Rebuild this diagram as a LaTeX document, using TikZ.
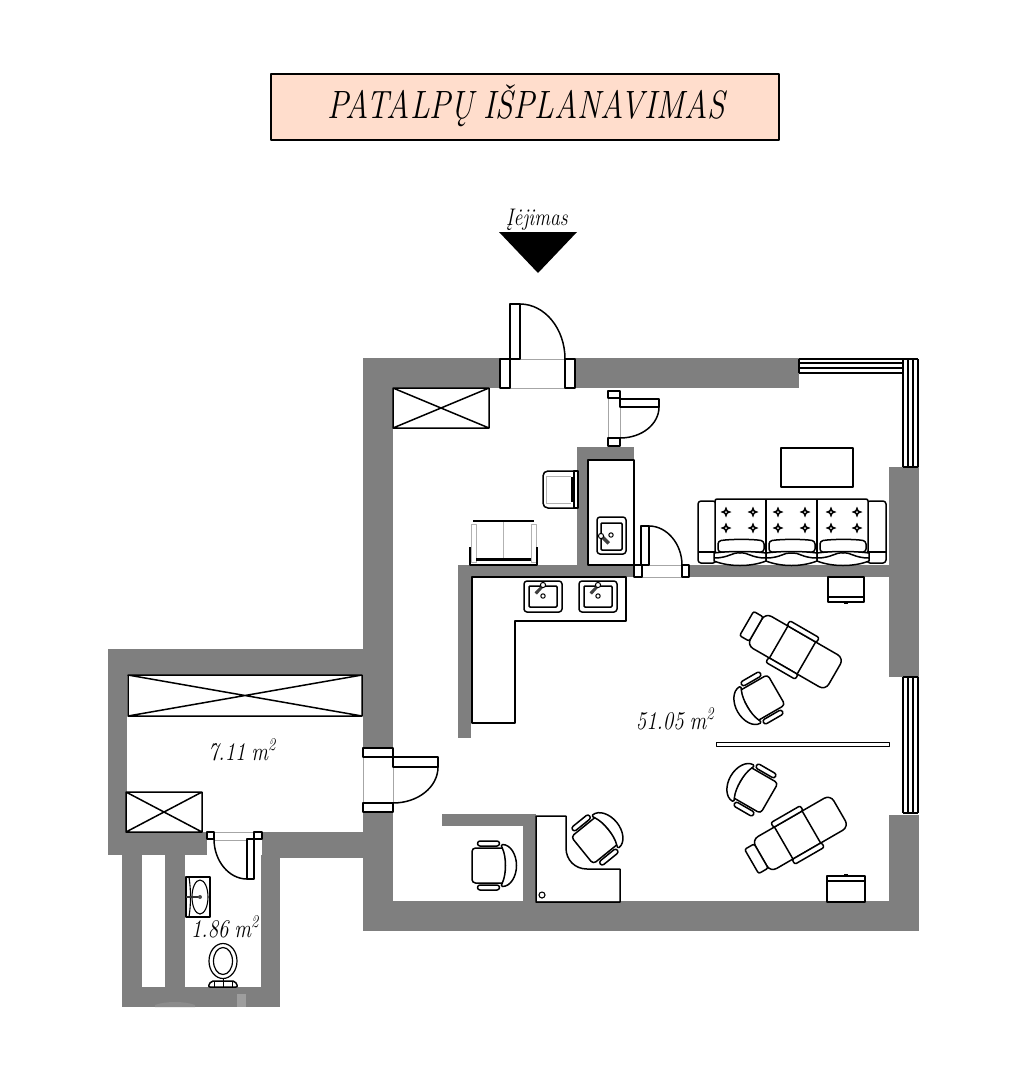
\documentclass[tikz,border=0pt]{standalone}
\usepackage{fontspec}
\newcommand{\condensed}[1]{\scalebox{0.82}[1]{#1}}
\begin{document}
\begin{tikzpicture}[x=1pt,y=-1pt,line join=round,
  wall/.style={fill=wallgrey,draw=none},
  ln/.style={draw=black,line width=1.5pt},
  lnw/.style={draw=black,line width=1.5pt,fill=white},
  thinl/.style={draw=black!35,line width=0.9pt},
  softl/.style={draw=black!30,line width=1pt},
  lbl/.style={font=\itshape\fontsize{25.5}{25.5}\selectfont,inner sep=0pt,anchor=base,text=black},
  officechair/.pic={
    \draw[lnw,rounded corners=3.5pt] (-16.5,-17.5) rectangle (17,17.5);
    \draw[lnw] (14,-21) .. controls (22,-21) and (28,-11) .. (28,0) .. controls (28,11) and (22,21) .. (14,21)
       .. controls (12,21) and (13,19) .. (14,17) .. controls (18,8) and (18,-8) .. (14,-17) .. controls (13,-19) and (12,-21) .. (14,-21) -- cycle;
    \draw[lnw,rounded corners=2.5pt] (-11,-24.5) rectangle (11,-19.5);
    \draw[lnw,rounded corners=2.5pt] (-11,19.5) rectangle (11,24.5);
  },
  treatchair/.pic={
    \draw[lnw,rounded corners=7pt] (-46,-18.5) rectangle (44.5,18.5);
    \draw[lnw,rounded corners=2pt] (-57,-14) rectangle (-46,14);
    \draw[ln] (-20,-18.5) -- (-20,18.5) (12,-18.5) -- (12,18.5);
    \draw[lnw,rounded corners=2pt] (-21,-24) rectangle (13,-18.5);
    \draw[lnw,rounded corners=2pt] (-21,18.5) rectangle (13,24);
  },
  tuft/.pic={
    \fill[black] (0,-5.5) -- (1.6,-1.6) -- (5.5,0) -- (1.6,1.6) -- (0,5.5) -- (-1.6,1.6) -- (-5.5,0) -- (-1.6,-1.6) -- cycle;
    \fill[white] (0,0) circle (1);
  },
  washbasin/.pic={
    \draw[lnw,rounded corners=3pt] (0,0) rectangle (38,31);
    \draw[ln,rounded corners=1pt] (5,5) rectangle (33,26);
    \fill[black!75] (18.6,3.2) -- (20.6,5) -- (13,13.5) -- (10.5,11.5) -- cycle;
    \draw[lnw,line width=1pt] (19,4) circle (2.6);
    \draw[lnw,line width=1pt] (19,15) circle (2.2);
  }]
\definecolor{wallgrey}{HTML}{7F7F7F}
\definecolor{titlefill}{HTML}{FFDDCC}
\useasboundingbox (0,0) rectangle (1028,1080);
\fill[white] (0,0) rectangle (1028,1080);

% ---------- title
\node[draw=black,line width=1.5pt,fill=titlefill,minimum width=508pt,minimum height=66pt,inner sep=0pt] (titlebox) at (525,107) {};
\node[inner sep=0pt,anchor=base,font=\itshape\fontsize{39.5}{39.5}\selectfont,text=black] (title) at (526,118) {\scalebox{0.81}[1]{PATALPŲ\hspace{0.3em}IŠPLANAVIMAS}};
\node[lbl,font=\itshape\fontsize{24}{24}\selectfont] (entry) at (537,225) {\condensed{Įėjimas}};
\fill[black] (499,232) -- (577,232) -- (538,273) -- cycle;

% ---------- walls of the main room
\fill[wall] (363,358) rectangle (500,388);
\fill[wall] (575,358) rectangle (799,388);
\fill[wall] (363,358) rectangle (393,748);
\fill[wall] (363,812) rectangle (393,931);
\fill[wall] (363,901) rectangle (919,931);
\fill[wall] (889,467) rectangle (919,677);
\fill[wall] (889,815) rectangle (919,931);
% inner walls
\fill[wall] (458,565) rectangle (634,577);
\fill[wall] (689,565) rectangle (889,577);
\fill[wall] (458,565) rectangle (471,738);
\fill[wall] (577,447) rectangle (588,565);
\fill[wall] (577,447) rectangle (634,460);
\fill[wall] (442,814) rectangle (536,826);
\fill[wall] (523,814) rectangle (536,901);
% left room
\fill[wall] (108,649) rectangle (363,676);
\fill[wall] (108,649) rectangle (127,855);
\fill[wall] (108,832) rectangle (207,855);
\fill[wall] (262,832) rectangle (363,858);
% washroom
\fill[wall] (122,855) rectangle (142,1007);
\fill[wall] (165,855) rectangle (185,1007);
\fill[wall] (261,855) rectangle (280,1007);
\fill[wall] (122,987) rectangle (280,1007);
\fill[black!38] (237,994) rectangle (246,1007);
\fill[black!45] (155,1005) .. controls (165,1001) and (185,1001) .. (195,1005) -- (195,1007) -- (155,1007) -- cycle;

% ---------- windows
\draw[ln,line width=1.2pt] (799,359) -- (918,359) (799,363) -- (903,363) (799,368) -- (903,368) (799,373) -- (903,373) (799,359) -- (799,373);
\draw[ln,line width=1.2pt] (903,359) -- (903,467) (908,359) -- (908,467) (913,359) -- (913,467) (918,359) -- (918,467) (903,467) -- (918,467);
\draw[ln,line width=1.2pt] (903,677) -- (903,813) (908,677) -- (908,813) (913,677) -- (913,813) (918,677) -- (918,813) (903,677) -- (918,677) (903,813) -- (918,813);

% ---------- doors
% entrance
\draw[thinl] (510,359) -- (565,359) (510,388) -- (565,388);
\draw[lnw] (500,359) rectangle (510,388);
\draw[lnw] (565,359) rectangle (575,388);
\draw[lnw] (510,304) rectangle (520,359);
\draw[ln] (520,304) .. controls (545,304) and (565,329) .. (565,359);
% upper small door
\draw[thinl] (608,398) -- (608,438) (620,398) -- (620,438);
\draw[lnw] (608,391) rectangle (620,398);
\draw[lnw] (608,438) rectangle (620,446);
\draw[lnw] (620,399) rectangle (659,407);
\draw[ln] (659,407) .. controls (659,424) and (642,438) .. (620,438);
% kitchen door
\draw[thinl] (642,565) -- (682,565) (642,577) -- (682,577);
\draw[lnw] (634,565) rectangle (642,577);
\draw[lnw] (682,565) rectangle (689,577);
\draw[lnw] (641,526) rectangle (649,565);
\draw[ln] (649,526) .. controls (667,526) and (682,544) .. (682,565);
% left room door
\draw[thinl] (363,757) -- (363,803) (393,767) -- (393,803);
\draw[lnw] (363,748) rectangle (393,757);
\draw[lnw] (363,803) rectangle (393,812);
\draw[lnw] (393,757) rectangle (438,767);
\draw[ln] (438,767) .. controls (438,787) and (418,803) .. (393,803);
% washroom door
\draw[thinl] (214,832) -- (254,832) (214,840) -- (254,840);
\draw[lnw] (207,832) rectangle (214,839);
\draw[lnw] (254,832) rectangle (262,839);
\draw[lnw] (247,839) rectangle (254,879);
\draw[ln] (247,879) .. controls (229,879) and (214,861) .. (214,839);

% ---------- wardrobes
\draw[ln] (393,388) rectangle (489,428) (393,388) -- (489,428) (393,428) -- (489,388);
\draw[ln] (128,675) rectangle (362,716) (128,675) -- (362,716) (128,716) -- (362,675);
\draw[ln] (126,792) rectangle (202,832) (126,792) -- (202,832) (126,832) -- (202,792);

% ---------- kitchen unit and counter
\draw[ln] (588,460) rectangle (634,565);
\draw[lnw,rounded corners=3pt] (597,517) rectangle (626,554);
\draw[ln,rounded corners=1pt] (601,523) rectangle (622,550);
\fill[black!75] (601,533) -- (610,542) -- (607.5,544.5) -- (599,536) -- cycle;
\draw[lnw,line width=1pt] (601,536) circle (2.6);
\draw[lnw,line width=1pt] (611,535) circle (2.2);
\draw[ln] (472,577) -- (626,577) -- (626,621) -- (515,621) -- (515,723) -- (472,723) -- cycle;
\pic at (524,581) {washbasin};
\pic at (579,581) {washbasin};

% ---------- small armchair
\draw[ln] (575,471) -- (548,471) .. controls (545,471) and (543,473) .. (543,476) -- (543,503) .. controls (543,506) and (545,508) .. (548,508) -- (575,508);
\draw[softl] (546,476) -- (546,504) (546,476) -- (571,476) (546,503) -- (571,503);
\draw[lnw] (574,471) rectangle (578,508);
\fill[black] (571,477) rectangle (573.5,502);

% ---------- small sofa
\draw[softl] (471,524) rectangle (476,562) (531,524) rectangle (536.5,562) (503.5,521) -- (503.5,558);
\draw[ln] (473,521) -- (534,521);
\draw[ln] (470,547) -- (470,565) -- (537,565) -- (537,547);
\fill[black] (476,557.5) rectangle (531,561);

% ---------- sofa
\draw[lnw,rounded corners=3pt] (698,501) rectangle (716,563);
\draw[lnw,rounded corners=3pt] (867,501) rectangle (886,563);
\draw[ln] (698,552) -- (716,552) (867,552) -- (886,552);
\draw[lnw,rounded corners=2pt] (715,499) rectangle (868,553);
\draw[ln] (766,499) -- (766,553) (817,499) -- (817,553);
\foreach \a in {718,769,820}{
  \draw[lnw,rounded corners=3pt] (\a,541) .. controls (\a+12,539) and (\a+35,539) .. (\a+46,541) -- (\a+46,552) -- (\a,552) -- cycle;
}
\foreach \a/\b in {714/766,766/817,817/869}{
  \draw[lnw] (\a,553) .. controls (\a+15,551) and (\b-15,551) .. (\b,553) -- (\b,561) .. controls (\b-15,567) and (\a+15,567) .. (\a,561) -- cycle;
  \draw[ln] (\a,558) .. controls (\a+15,558) and (\a+18,552) .. (0.5*\a+0.5*\b,553) .. controls (\b-18,552) and (\b-15,558) .. (\b,558);
}
\foreach \xx in {726,753,778,805,831,857}{
  \foreach \yy in {512,528}{ \pic at (\xx,\yy) {tuft}; }
}

% ---------- coffee table, cabinets, partition
\draw[ln] (781,448) rectangle (853,487);
\draw[ln] (828,577) rectangle (864,602);
\draw[ln] (828,597) -- (864,597);
\fill[black] (844,602) rectangle (848,603.5);
\draw[ln] (827,876) rectangle (865,902);
\draw[ln] (827,881) -- (865,881);
\fill[black] (844,874) rectangle (848,876);
\draw[lnw] (716.5,742.5) rectangle (889.5,746.5);

% ---------- treatment chairs and stools
\pic[rotate=-30] at (796,652) {treatchair};
\pic[rotate=30] at (801,833) {treatchair};
\pic[rotate=210] at (762,698) {officechair};
\pic[rotate=150] at (755,790) {officechair};
\pic at (488.5,865.5) {officechair};
\pic[rotate=39] at (595,840) {officechair};

% ---------- desk
\draw[ln] (536,816) -- (566,816) -- (566,848) .. controls (566,860) and (575,869) .. (587,869) -- (620,869) -- (620,902) -- (536,902) -- cycle;
\draw[ln,line width=1.1pt] (542,895) circle (3);

% ---------- washroom fittings
\draw[ln] (186,877) rectangle (210,917);
\draw[ln,line width=1.1pt] (200,897) ellipse (8 and 17);
\draw[ln,line width=1.1pt] (189,877) .. controls (191,890) and (191,904) .. (189,917);
\draw[black!80,line width=2.5pt] (186,897) -- (200,897);
\fill[black!70] (200,897) circle (2);
\draw[ln,line width=1.2pt] (223,961) ellipse (14 and 17.5);
\draw[ln,line width=1.2pt] (223,961) ellipse (9.5 and 13.5);
\draw[ln,rounded corners=2pt] (208,987) -- (211,981) -- (235,981) -- (238,987) -- cycle;
\draw[ln,line width=1pt] (214,981) -- (214,987) (223,979) -- (223,987) (232,981) -- (232,987);

% ---------- areas
\node[lbl] (a711) at (242,760) {\condensed{7.11\hspace{0.28em}m\textsuperscript{2}}};
\node[lbl] (a5105) at (675,729) {\condensed{51.05\hspace{0.28em}m\textsuperscript{2}}};
\node[lbl] (a186) at (225,937) {\condensed{1.86\hspace{0.28em}m\textsuperscript{2}}};
\end{tikzpicture}
\end{document}
